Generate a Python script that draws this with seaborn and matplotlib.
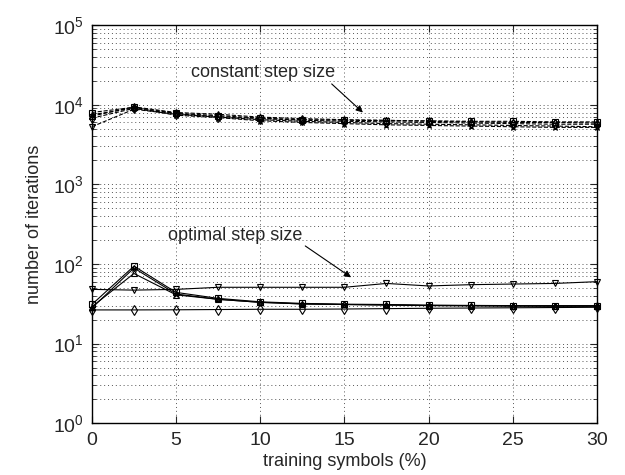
# number of iterations vs training symbols
import numpy as np
import pandas as pd
import matplotlib
matplotlib.use('Agg')
import matplotlib.pyplot as plt
import seaborn as sns

x_train = [0, 2.5, 5, 7.5, 10, 12.5, 15, 17.5, 20, 22.5, 25, 27.5, 30]
markers = ['s', '^', 'v', 'd', '*']

# constant step size (dashed)
const_s = [8000, 9300, 7800, 7300, 6800, 6500, 6400, 6300, 6300, 6200, 6200, 6100, 6100]
const_up = [7200, 9400, 8000, 7600, 7000, 6700, 6500, 6400, 6200, 6100, 6000, 6000, 5900]
const_dn = [5300, 8800, 7600, 7000, 6500, 6200, 6000, 5800, 5700, 5600, 5500, 5400, 5300]
const_d = [6800, 9000, 7700, 7100, 6700, 6400, 6200, 6100, 6000, 5900, 5800, 5700, 5700]
const_star = [7500, 9100, 7400, 6900, 6300, 6000, 5800, 5600, 5500, 5400, 5300, 5200, 5200]

# optimal step size (solid)
opt_s = [31, 94, 44, 37, 33.5, 32, 31.3, 31, 30.4, 30.2, 30, 30, 30]
opt_up = [29, 76, 41, 36, 33, 31.5, 31, 30.5, 30, 29.8, 29.6, 29.5, 29.5]
opt_dn = [48, 47, 48, 51, 51, 51, 51, 57, 53, 55, 56, 57, 60]
opt_d = [26.5, 26.5, 26.6, 26.8, 27, 27, 27.2, 27.5, 27.8, 28, 28.2, 28.4, 28.6]
opt_star = [28, 89, 42, 36, 33, 31.5, 31, 30.6, 30.2, 30, 29.8, 29.6, 29.6]

const_series = [const_s, const_up, const_dn, const_d, const_star]
opt_series = [opt_s, opt_up, opt_dn, opt_d, opt_star]

sns.set_style('ticks')
plt.rcParams['font.family'] = ['Liberation Sans', 'DejaVu Sans']

fig = plt.figure(figsize=(6.25, 4.75), dpi=100)
ax = fig.add_axes([0.147, 0.109, 0.808, 0.838])

for group, ls in [(const_series, '--'), (opt_series, '-')]:
    for vals, m in zip(group, markers):
        sns.lineplot(x=x_train, y=vals, ax=ax, color='black', linestyle=ls, linewidth=0.8,
                     marker=m, markersize=5, markerfacecolor='none', markeredgecolor='black',
                     markeredgewidth=0.8, clip_on=False, zorder=3)

ax.set_yscale('log')
ax.set_xlim(0, 30)
ax.set_ylim(1, 1e5)
ax.set_xticks([0, 5, 10, 15, 20, 25, 30])
ax.yaxis.set_minor_locator(matplotlib.ticker.LogLocator(base=10, subs=np.arange(2, 10)))
ax.yaxis.set_minor_formatter(matplotlib.ticker.NullFormatter())
ax.grid(True, which='major', color='#555555', linestyle=(0, (1, 3)), linewidth=0.7)
ax.grid(True, which='minor', axis='y', color='#555555', linestyle=(0, (1, 3)), linewidth=0.7)
ax.tick_params(which='both', direction='in', top=True, right=True, labelsize=14, pad=6)
ax.tick_params(which='major', length=5)
ax.tick_params(which='minor', length=3)
for sp in ax.spines.values():
    sp.set_linewidth(1.0)
    sp.set_color('black')
    sp.set_zorder(4)

ax.set_xlabel('training symbols (%)', fontsize=13, labelpad=3)
ax.set_ylabel('number of iterations', fontsize=13, labelpad=7)

ax.annotate('constant step size', xy=(16.1, 8000), xytext=(5.9, 25700), fontsize=13,
            va='center', ha='left',
            arrowprops=dict(arrowstyle='-|>', color='black', lw=0.8, shrinkA=0, shrinkB=0,
                            relpos=(0.95, 0.0), mutation_scale=10))
ax.annotate('optimal step size', xy=(15.4, 68), xytext=(4.5, 230), fontsize=13,
            va='center', ha='left',
            arrowprops=dict(arrowstyle='-|>', color='black', lw=0.8, shrinkA=0, shrinkB=0,
                            relpos=(1.0, 0.0), mutation_scale=10))

fig.savefig('out.png', dpi=100)
